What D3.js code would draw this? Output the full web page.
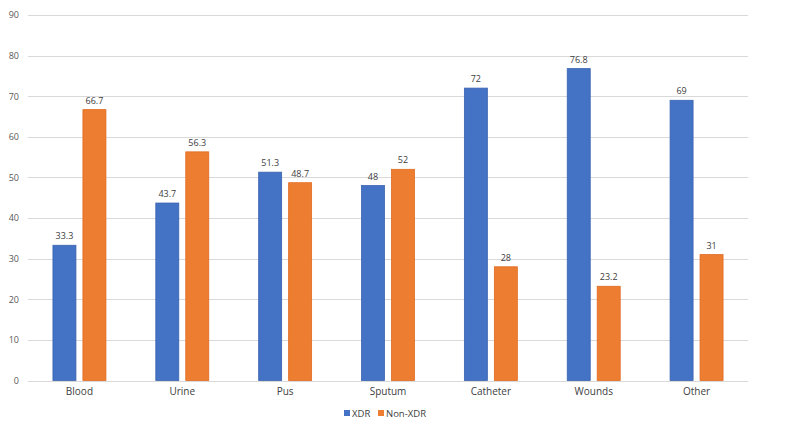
<!DOCTYPE html>
<html><head><meta charset="utf-8">
<script src="https://cdn.jsdelivr.net/npm/d3@7"></script>
<style>body{margin:0;background:#fff;} text{font-family:"Open Sans","Liberation Sans",Arial,sans-serif;}</style>
</head><body><svg id="c" width="800" height="437"></svg>
<script>
const categories = ["Blood","Urine","Pus","Sputum","Catheter","Wounds","Other"];
const seriesNames = ["XDR","Non-XDR"];
const xdr = [33.3,43.7,51.3,48,72,76.8,69];
const nonXdr = [66.7,56.3,48.7,52,28,23.2,31];
const yTicks = [0,10,20,30,40,50,60,70,80,90];
const colors = ["#4472C4","#ED7D31"];
const strokes = ["#3a63b0","#e06a20"];

(function(){
const svg = d3.select("#c");
const mLeft = 28, mRight = 748, mTop = 15, mBottom = 380.5;
const y = d3.scaleLinear().domain([0,90]).range([mBottom, mTop]);
const x0 = d3.scaleBand().domain(categories).range([mLeft,mRight]).paddingInner(0.485).paddingOuter(0.2425);
const x1 = d3.scaleBand().domain(seriesNames).range([0,x0.bandwidth()]).paddingInner(0.233).paddingOuter(0);

svg.append("g").selectAll("line").data(yTicks).join("line")
  .attr("x1",mLeft).attr("x2",mRight)
  .attr("y1",d=>Math.round(y(d))+0.5).attr("y2",d=>Math.round(y(d))+0.5)
  .attr("stroke","#d9d9d9").attr("stroke-width",1);

const yAxis = d3.axisLeft(y).tickValues(yTicks).tickSize(0).tickPadding(0);
const ya = svg.append("g").attr("transform",`translate(${mLeft-9},0)`).call(yAxis);
ya.select(".domain").remove();
ya.selectAll("text").attr("fill","#595959").attr("font-size","9px");

const xAxis = d3.axisBottom(x0).tickSize(0).tickPadding(0);
const xa = svg.append("g").attr("transform",`translate(0,${mBottom+7})`).call(xAxis);
xa.select(".domain").remove();
xa.selectAll("text").attr("fill","#404040").attr("font-size","10px");

const data = categories.map((c,i)=>({cat:c, vals:[{s:"XDR",v:xdr[i],k:0},{s:"Non-XDR",v:nonXdr[i],k:1}]}));
const g = svg.append("g").selectAll("g").data(data).join("g")
  .attr("transform",d=>`translate(${x0(d.cat)},0)`);
g.selectAll("rect").data(d=>d.vals).join("rect")
  .attr("x",d=>x1(d.s)).attr("width",x1.bandwidth())
  .attr("y",d=>y(d.v)).attr("height",d=>y(0)-y(d.v))
  .attr("fill",d=>colors[d.k]).attr("stroke",d=>strokes[d.k]).attr("stroke-width",0.8);
g.selectAll("text").data(d=>d.vals).join("text")
  .attr("x",d=>x1(d.s)+x1.bandwidth()/2).attr("y",d=>y(d.v)-6)
  .attr("text-anchor","middle").attr("font-size","9px").attr("fill","#404040")
  .text(d=>d.v);

const leg = svg.append("g").attr("transform","translate(344,413)");
const items = [{s:"XDR",x:0},{s:"Non-XDR",x:34}];
items.forEach((it,i)=>{
  leg.append("rect").attr("x",it.x).attr("y",-3).attr("width",6).attr("height",6).attr("fill",colors[i]);
  leg.append("text").attr("x",it.x+8).attr("y",3.5).attr("font-size","9.5px").attr("fill","#404040").text(it.s);
});
})();
</script></body></html>
